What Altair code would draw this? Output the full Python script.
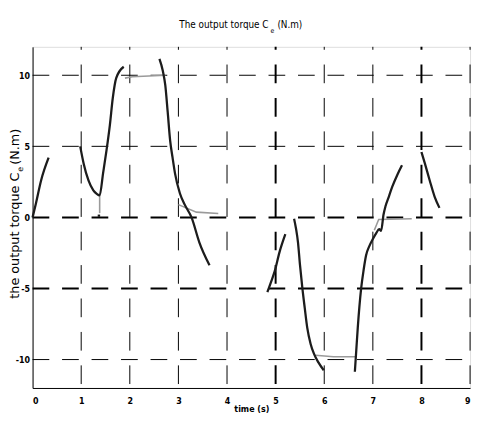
import altair as alt
import pandas as pd

# ---- data ----
# dark curve pieces (time s, torque N.m)
a_t = [0.0, 0.07, 0.175, 0.33]
a_y = [0.0, 1.0, 2.6, 4.2]
b_t = [0.98, 1.05, 1.15, 1.25, 1.32, 1.38, 1.45, 1.52, 1.59, 1.65, 1.72, 1.875]
b_y = [5.0, 3.8, 2.6, 1.9, 1.66, 1.55, 3.1, 4.7, 6.5, 8.4, 9.8, 10.6]
b2_t = [1.34, 1.39]
b2_y = [0.12, 0.12]
c_t = [2.61, 2.68, 2.73, 2.78, 2.83, 2.88, 2.93, 3.03, 3.13, 3.27, 3.43, 3.64]
c_y = [11.15, 10.3, 9.3, 7.4, 5.4, 4.2, 3.1, 1.7, 0.9, 0.0, -1.75, -3.37]
d_t = [4.83, 4.91, 4.98, 5.08, 5.2]
d_y = [-5.26, -4.5, -3.8, -2.44, -1.18]
e_t = [5.38, 5.42, 5.46, 5.5, 5.55, 5.6, 5.65, 5.72, 5.79, 5.88, 5.99]
e_y = [-0.1, -0.8, -1.75, -3.3, -4.98, -6.4, -7.75, -8.9, -9.6, -10.2, -10.75]
f_t = [6.63, 6.66, 6.69, 6.76, 6.81, 6.86, 6.93, 7.0, 7.07, 7.13, 7.17, 7.22, 7.26, 7.33, 7.4, 7.5, 7.6]
f_y = [-10.86, -9.3, -7.75, -4.98, -3.7, -2.68, -2.0, -1.52, -1.1, -0.83, -0.95, 0.2, 0.78, 1.47, 2.16, 2.97, 3.67]
g_t = [8.0, 8.07, 8.17, 8.27, 8.37]
g_y = [4.6, 3.8, 2.6, 1.47, 0.67]

# light grey pieces
ga_t = [1.38, 1.38]
ga_y = [1.5, 0.3]
gb_t = [1.9, 2.05, 2.73]
gb_y = [9.8, 9.9, 10.0]
gc_t = [3.0, 3.37, 3.82]
gc_y = [0.9, 0.37, 0.28]
gd_t = [5.82, 6.19, 6.65]
gd_y = [-9.7, -9.8, -9.8]
ge_t = [7.03, 7.12, 7.8]
ge_y = [-0.9, -0.15, -0.1]

x_ticks = [0, 1, 2, 3, 4, 5, 6, 7, 8, 9]
y_ticks = [-10, -5, 0, 5, 10]
x_grid = [1, 2, 3, 4, 5, 6, 7, 8, 9]
y_grid = [-10, -5, 0, 5, 10]

title_main = "The output torque C"
title_sub = "e"
title_unit = "(N.m)"
ytitle_main = "the output torque C"
ytitle_sub = "e"
ytitle_unit = "(N.m)"
x_title = "time (s)"


def build(pieces):
    rows = []
    for k, (ts, ys) in enumerate(pieces):
        for i, (t, y) in enumerate(zip(ts, ys)):
            rows.append({"t": t, "y": y, "seg": k, "i": i})
    return pd.DataFrame(rows)


dark = build([(a_t, a_y), (b_t, b_y), (b2_t, b2_y), (c_t, c_y), (d_t, d_y),
               (e_t, e_y), (f_t, f_y), (g_t, g_y)])
grey = build([(ga_t, ga_y), (gb_t, gb_y), (gc_t, gc_y), (gd_t, gd_y), (ge_t, ge_y)])

W, H = 445, 347
NARROW = "Liberation Sans Narrow, Arial Narrow, DejaVu Sans Condensed, sans-serif"

xscale = alt.Scale(domain=[0, 9], nice=False, zero=False)
yscale = alt.Scale(domain=[-12, 12], nice=False, zero=False)
xaxis = alt.Axis(values=x_ticks, title=x_title, grid=False, ticks=False,
                 labelFont=NARROW, labelFontWeight="bold", labelFontSize=9,
                 labelColor="black", labelPadding=9, labelAngle=0,
                 titleFont=NARROW, titleFontWeight="bold", titleFontSize=9,
                 titleColor="black", titleY=24, titleBaseline="alphabetic",
                 domainColor="black", domainWidth=1)
yaxis = alt.Axis(values=y_ticks, title=None, grid=False, ticks=False,
                 labelFont=NARROW, labelFontWeight="bold", labelFontSize=9,
                 labelColor="black", labelPadding=3,
                 labelExpr="datum.value < 0 ? '-' + abs(datum.value) : '' + datum.value",
                 domainColor="black", domainWidth=1)


def X(f):
    return alt.X(f, type="quantitative", scale=xscale, axis=xaxis)


def Y(f):
    return alt.Y(f, type="quantitative", scale=yscale, axis=yaxis)


hgrid = alt.Chart(pd.DataFrame({"v": y_grid})).mark_rule(
    color="black", strokeDash=[17, 13]
).encode(
    y=Y("v"), x=alt.value(0), x2=alt.value(W),
    strokeWidth=alt.condition("datum.v == 0 || datum.v == -5", alt.value(2), alt.value(1)),
)

vgrid = alt.Chart(pd.DataFrame({"v": x_grid})).mark_rule(
    color="black", strokeDash=[19, 15], strokeDashOffset=16
).encode(
    x=X("v"), y=alt.value(0), y2=alt.value(H),
    strokeWidth=alt.condition("datum.v == 5 || datum.v == 8", alt.value(2), alt.value(1)),
)

grey_lines = alt.Chart(grey).mark_line(color="#9a9a9a", strokeWidth=1.6).encode(
    x=X("t"), y=Y("y"), detail="seg:N", order="i:Q"
)

dark_lines = alt.Chart(dark).mark_line(
    color="#1c1c1c", strokeWidth=2.3, interpolate="monotone"
).encode(
    x=X("t"), y=Y("y"), detail="seg:N", order="i:Q"
)

one = pd.DataFrame({"k": [0]})


def txt(text, x, y, size, font, align="left", angle=0, weight="normal"):
    return alt.Chart(one).mark_text(
        text=text, align=align, baseline="alphabetic", angle=angle,
        font=font, fontSize=size, fontWeight=weight, color="black"
    ).encode(x=alt.value(x), y=alt.value(y))


# main title
t1 = txt(title_main, 240, -19, 10, NARROW, align="right")
t2 = txt(title_sub, 242, -14, 7, NARROW)
t3 = txt(title_unit, 249, -19, 10, NARROW)

# rotated y title (reads bottom to top)
yt1 = txt(ytitle_main, -14, 128, 13, "DejaVu Sans", align="right", angle=270)
yt2 = txt(ytitle_sub, -10, 127, 8, "DejaVu Sans", angle=270)
yt3 = txt(ytitle_unit, -14, 120, 13, "DejaVu Sans", angle=270)

chart = alt.layer(
    hgrid, vgrid, grey_lines, dark_lines, t1, t2, t3, yt1, yt2, yt3
).properties(
    width=W, height=H,
    autosize=alt.AutoSizeParams(type="none"),
    padding={"left": 25, "top": 36, "right": 4, "bottom": 25},
).configure_view(stroke=None).configure(background="white")

chart.save("out.html", embed_options={"renderer": "svg", "actions": False})
